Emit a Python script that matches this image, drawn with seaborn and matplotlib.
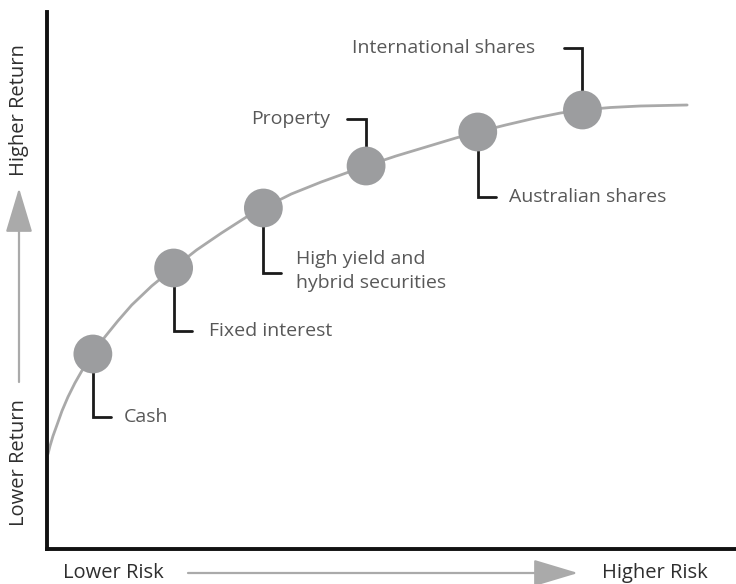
import matplotlib
matplotlib.use("Agg")
import matplotlib.pyplot as plt
import pandas as pd
import seaborn as sns

# curve of the risk / return trade-off (risk and return in arbitrary units)
curve_risk = [-1, 1, 4, 8, 13, 19, 26, 34, 44, 56, 69, 83, 103, 125, 148, 173, 198,
              215, 243, 273, 298, 318, 348, 378, 408, 430, 458, 488, 513, 535, 563,
              593, 640]
curve_return = [93, 101, 111, 122, 136, 150, 164, 178, 193, 210, 226, 242, 261, 279,
                297, 314, 330, 339, 353, 365, 374, 381, 391, 400, 409, 415, 422, 429,
                434, 437, 439.5, 441, 442]

# asset classes sitting on the curve
assets = ["Cash", "Fixed interest", "High yield and\nhybrid securities",
          "Property", "Australian shares", "International shares"]
asset_risk = [44, 125, 215, 318, 430, 535]
asset_return = [193, 279, 339, 381, 415, 437]

W, H = 736, 584


def fx(px):
    return px / W


def fy(py):
    return 1 - py / H


sns.set_theme(style="white")
plt.rcParams["font.family"] = ["Open Sans", "DejaVu Sans"]

fig = plt.figure(figsize=(W / 100, H / 100), dpi=100)
ax = fig.add_axes([fx(47), fy(549), fx(736 - 47), (549 - 12) / H])

curve = pd.DataFrame({"risk": curve_risk, "ret": curve_return})
pts = pd.DataFrame({"risk": asset_risk, "ret": asset_return, "asset": assets})

sns.lineplot(data=curve, x="risk", y="ret", ax=ax, color="#a9a9a9",
             linewidth=2.0, sort=True, estimator=None)
sns.scatterplot(data=pts, x="risk", y="ret", ax=ax, s=780, color="#9c9d9f",
                edgecolor="none", zorder=3)

ax.set_xlim(-2, 689)
ax.set_ylim(-2, 535)
ax.set_xticks([])
ax.set_yticks([])
ax.set_xlabel("")
ax.set_ylabel("")
for side in ["top", "right"]:
    ax.spines[side].set_visible(False)
for side in ["left", "bottom"]:
    ax.spines[side].set_color("#111111")
    ax.spines[side].set_linewidth(2.8)

# leader lines: (vertical offset, horizontal offset, text gap) in data units
leaders = {
    "Cash": (-63, 18, 13),
    "Fixed interest": (-63, 18, 17),
    "High yield and\nhybrid securities": (-65, 18, 15),
    "Property": (47, -19, 17),
    "Australian shares": (-65, 18, 13),
    "International shares": (62, -19, 28),
}
for name, rx, ry in zip(assets, asset_risk, asset_return):
    dv, dh, gap = leaders[name]
    ax.plot([rx, rx, rx + dh], [ry, ry + dv, ry + dv], color="#1a1a1a",
            linewidth=2.0, solid_joinstyle="miter", zorder=2)
    if dh > 0:
        tx, ha = rx + dh + gap, "left"
    else:
        tx, ha = rx + dh - gap, "right"
    ty = ry + dv
    if "\n" in name:
        ty = ty + 2
    ax.text(tx, ty, name, ha=ha, va="center", fontsize=14, color="#585858",
            linespacing=1.45)

# axis captions with arrows
lab = dict(fontsize=14.5, color="#2e2e2e")
fig.text(fx(63), fy(578), "Lower Risk", ha="left", va="baseline", **lab)
fig.text(fx(708), fy(578), "Higher Risk", ha="right", va="baseline", **lab)
fig.text(fx(19), fy(463), "Lower Return", ha="center", va="center", rotation=90, **lab)
fig.text(fx(19), fy(110), "Higher Return", ha="center", va="center", rotation=90, **lab)

arrow = dict(arrowstyle="-|>,head_length=1.4,head_width=0.42", color="#aaaaaa",
             linewidth=1.6, mutation_scale=20, shrinkA=0, shrinkB=0)
ax.annotate("", xy=(578, H - 573), xytext=(188, H - 573),
            xycoords="figure pixels", textcoords="figure pixels", arrowprops=arrow,
            annotation_clip=False)
ax.annotate("", xy=(19, H - 188), xytext=(19, H - 382),
            xycoords="figure pixels", textcoords="figure pixels", arrowprops=arrow,
            annotation_clip=False)

fig.savefig("out.png", dpi=100)
